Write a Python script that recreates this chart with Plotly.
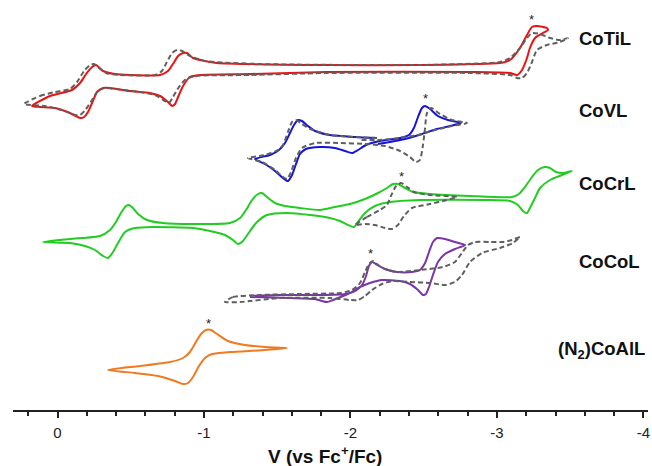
import plotly.graph_objects as go

# ---- data: potential (V vs Fc+/Fc) and current (a.u., offset per trace) ----
cotil_v = [0.174, 0.051, -0.099, -0.154, -0.195, -0.236, -0.263, -0.311, -0.392, -0.495, -0.700, -0.754, -0.788, -0.823, -0.857, -0.884, -0.925, -1.007, -1.089, -1.833, -2.474, -3.020, -3.089, -3.157, -3.205, -3.239, -3.273, -3.341, -3.348,
           -3.314, -3.260, -3.225, -3.205, -3.171, -3.137, -3.089, -2.816, -1.833, -1.314, -0.973, -0.904, -0.857, -0.823, -0.802, -0.782, -0.754, -0.700, -0.631, -0.495, -0.358, -0.311, -0.270, -0.236, -0.208, -0.181, -0.154, -0.085, 0.017, 0.119, 0.174]
cotil_i = [30.4, 31.4, 32.0, 32.7, 33.6, 34.3, 34.5, 33.9, 33.6, 33.5, 33.5, 33.9, 34.6, 35.4, 35.7, 35.7, 35.2, 34.9, 34.7, 34.5, 34.5, 34.7, 35.0, 36.2, 37.5, 38.3, 38.4, 38.2, 38.0,
           37.7, 37.2, 36.2, 35.2, 34.0, 33.5, 33.7, 33.8, 33.8, 33.6, 33.5, 33.3, 32.4, 31.3, 30.6, 30.4, 30.8, 31.4, 31.7, 31.9, 32.2, 32.2, 31.8, 30.7, 29.8, 29.3, 29.2, 29.7, 30.2, 30.3, 30.4]

cotil_ref_v = [0.229, 0.119, 0.017, -0.085, -0.133, -0.181, -0.222, -0.249, -0.283, -0.331, -0.427, -0.666, -0.713, -0.747, -0.782, -0.816, -0.850, -0.904, -1.007, -1.382, -2.474, -3.020, -3.089, -3.157, -3.205, -3.239, -3.294, -3.362, -3.430, -3.485,
               -3.430, -3.341, -3.273, -3.239, -3.205, -3.171, -3.137, -3.089, -2.816, -1.833, -1.314, -0.939, -0.877, -0.829, -0.788, -0.761, -0.734, -0.666, -0.563, -0.392, -0.324, -0.276, -0.236, -0.195, -0.154, -0.119, -0.051, 0.085, 0.229]
cotil_ref_i = [30.6, 31.4, 31.8, 32.1, 32.8, 33.9, 34.5, 34.6, 34.2, 33.7, 33.5, 33.5, 33.9, 34.8, 35.7, 36.0, 35.9, 35.4, 34.9, 34.6, 34.5, 34.8, 35.2, 36.2, 37.2, 37.7, 37.6, 37.2, 37.0, 37.2,
               36.8, 36.5, 36.0, 34.8, 33.7, 33.2, 33.2, 33.5, 33.7, 33.7, 33.5, 33.4, 33.1, 32.3, 31.3, 30.7, 30.9, 31.5, 31.8, 32.1, 32.2, 31.9, 31.0, 30.1, 29.5, 29.5, 29.9, 30.4, 30.6]

covl_v = [-2.181, -2.031, -1.860, -1.758, -1.710, -1.669, -1.642, -1.614, -1.587, -1.553, -1.512, -1.451, -1.348,
          -1.416, -1.485, -1.539, -1.573, -1.601, -1.628, -1.655, -1.696, -1.792, -1.894, -1.963, -2.010, -2.051, -2.106, -2.201, -2.338, -2.399, -2.433, -2.461, -2.488, -2.509, -2.543, -2.597, -2.666, -2.754,
          -2.679, -2.591, -2.488, -2.372, -2.270, -2.188]
covl_i = [27.2, 27.3, 27.5, 27.9, 28.4, 28.9, 29.0, 28.5, 27.7, 26.7, 26.0, 25.5, 25.1,
          24.6, 23.9, 23.2, 22.9, 23.5, 24.6, 25.6, 26.1, 26.3, 26.2, 25.9, 25.7, 26.0, 26.5, 26.9, 27.2, 27.5, 28.2, 29.3, 30.2, 30.4, 30.1, 29.4, 29.0, 28.7,
          28.4, 28.1, 27.6, 27.1, 26.8, 26.6]

covl_ref_v = [-2.181, -2.031, -1.860, -1.724, -1.669, -1.628, -1.601, -1.573, -1.539, -1.505, -1.416, -1.300,
              -1.396, -1.485, -1.539, -1.567, -1.594, -1.628, -1.669, -1.758, -1.928, -2.099, -2.236, -2.338, -2.406, -2.447, -2.474, -2.495, -2.509, -2.522, -2.550, -2.611, -2.693, -2.795,
              -2.693, -2.577, -2.461, -2.338, -2.201, -2.065]
covl_ref_i = [27.2, 27.3, 27.5, 28.1, 28.6, 29.0, 28.8, 27.8, 26.5, 26.0, 25.5, 25.2,
              24.8, 24.0, 23.3, 23.1, 23.8, 25.2, 26.2, 26.7, 26.7, 26.6, 26.4, 25.9, 25.3, 24.8, 25.0, 26.5, 28.2, 29.7, 30.2, 29.6, 29.0, 28.7,
              28.4, 28.0, 27.5, 27.2, 27.0, 27.0]

cocrl_v = [0.099, -0.085, -0.290, -0.358, -0.399, -0.433, -0.468, -0.488, -0.515, -0.550, -0.611, -0.720, -0.925, -1.177, -1.246, -1.287, -1.328, -1.369, -1.396, -1.430, -1.485, -1.553, -1.655, -1.792,
           -1.894, -1.997, -2.099, -2.188, -2.249, -2.290, -2.324, -2.372, -2.427, -2.543, -2.816, -3.102, -3.150, -3.191, -3.239, -3.280, -3.328, -3.362, -3.403, -3.457, -3.512,
           -3.444, -3.362, -3.294, -3.253, -3.225, -3.205, -3.177, -3.143, -3.089, -2.932, -2.474, -2.270, -2.167, -2.099, -2.051, -2.024, -1.983, -1.928, -1.860, -1.724, -1.567, -1.430, -1.362, -1.314, -1.266, -1.232, -1.198, -1.143, -1.041, -0.925, -0.652, -0.529, -0.461, -0.413, -0.379, -0.345, -0.311, -0.256, -0.188, -0.085, 0.099]
cocrl_i = [16.8, 17.1, 17.4, 18.0, 18.8, 19.7, 20.4, 20.5, 20.2, 19.6, 19.0, 18.7, 18.6, 18.7, 19.2, 20.0, 21.0, 21.6, 21.7, 21.3, 20.7, 20.4, 20.2, 20.0,
           20.3, 20.6, 21.1, 21.7, 22.2, 22.6, 22.6, 22.2, 21.8, 21.6, 21.4, 21.3, 21.6, 22.3, 23.3, 24.0, 24.3, 24.2, 23.8, 23.7, 23.9,
           23.5, 23.0, 22.2, 21.0, 20.2, 19.7, 19.9, 20.5, 20.9, 21.0, 21.0, 20.8, 20.4, 19.7, 18.8, 18.3, 18.5, 18.9, 19.2, 19.5, 19.7, 19.5, 18.8, 17.9, 16.9, 16.6, 17.0, 17.5, 17.9, 18.2, 18.3, 18.2, 17.8, 16.7, 15.8, 15.2, 15.4, 16.0, 16.4, 16.7, 16.8]

cocrl_ref_v = [-2.031, -2.113, -2.201, -2.249, -2.276, -2.311, -2.345, -2.386, -2.434, -2.543, -2.727,
               -2.659, -2.543, -2.420, -2.365, -2.324, -2.283, -2.236, -2.167, -2.099, -2.031]
cocrl_ref_i = [18.5, 19.3, 20.0, 20.5, 21.4, 22.4, 22.7, 22.3, 21.8, 21.5, 21.3,
               21.0, 20.6, 20.2, 19.4, 18.5, 18.1, 18.2, 18.5, 18.6, 18.5]

cocol_v = [-1.314, -1.587, -1.758, -1.805, -1.840, -1.881, -1.949, -2.010, -2.065, -2.133, -2.215, -2.338, -2.406, -2.461, -2.495, -2.515, -2.536, -2.563, -2.597, -2.645, -2.713, -2.782,
           -2.713, -2.645, -2.591, -2.563, -2.536, -2.509, -2.474, -2.420, -2.317, -2.236, -2.174, -2.147, -2.126, -2.106, -2.079, -2.031, -1.963, -1.792, -1.519, -1.314]
cocol_i = [11.3, 11.2, 11.1, 10.9, 10.8, 11.0, 11.4, 11.8, 12.3, 12.7, 13.0, 12.9, 12.6, 12.0, 11.5, 11.6, 12.3, 13.5, 14.8, 15.6, 16.1, 16.5,
           16.8, 17.1, 17.2, 16.8, 15.8, 14.7, 14.0, 13.8, 13.8, 14.1, 14.6, 14.8, 14.4, 13.4, 12.5, 11.9, 11.6, 11.5, 11.5, 11.4]

cocol_ref_v = [-1.143, -1.198, -1.382, -1.655, -1.928, -2.010, -2.065, -2.099, -2.126, -2.154, -2.188, -2.236, -2.317, -2.474, -2.631, -2.713, -2.761, -2.802, -2.850, -2.952, -3.041, -3.102, -3.157,
               -3.109, -3.020, -2.898, -2.816, -2.761, -2.713, -2.645, -2.543, -2.406, -2.290, -2.215, -2.147, -2.099, -2.051, -1.997, -1.860, -1.519, -1.246, -1.143]
cocol_ref_i = [10.8, 11.3, 11.5, 11.6, 11.7, 12.0, 12.7, 13.8, 14.6, 14.9, 14.5, 14.1, 13.8, 14.0, 14.3, 14.8, 15.7, 16.5, 16.8, 16.8, 16.8, 17.0, 17.3,
               16.7, 16.2, 15.7, 14.8, 13.5, 12.8, 12.5, 12.7, 12.8, 12.9, 12.6, 12.0, 11.4, 11.0, 11.0, 11.2, 11.2, 10.8, 10.8]

coall_v = [-0.345, -0.563, -0.768, -0.857, -0.904, -0.945, -0.980, -1.014, -1.048, -1.089, -1.164, -1.280, -1.416, -1.567,
           -1.416, -1.177, -1.055, -1.007, -0.966, -0.925, -0.891, -0.857, -0.802, -0.686, -0.529, -0.345]
coall_i = [4.0, 4.4, 4.8, 5.2, 5.8, 6.8, 7.6, 8.0, 8.0, 7.6, 6.9, 6.5, 6.3, 6.2,
           6.0, 5.8, 5.6, 5.2, 4.4, 3.3, 2.7, 2.6, 2.9, 3.4, 3.7, 4.0]

labels = ["CoTiL", "CoVL", "CoCrL", "CoCoL", "(N<sub>2</sub>)CoAlL"]
label_v = [-3.546, -3.546, -3.546, -3.546, -3.403]
label_i = [37.2, 30.0, 22.7, 14.9, 6.0]

star_v = [-3.239, -2.509, -2.345, -2.140, -1.034]
star_i = [39.1, 31.2, 23.4, 15.7, 8.7]

tick_vals = [0, -1, -2, -3, -4]
tick_text = ["0", "-1", "-2", "-3", "-4"]
minor_vals = [0.2, -0.2, -0.4, -0.6, -0.8, -1.2, -1.4, -1.6, -1.8, -2.2, -2.4, -2.6, -2.8,
              -3.2, -3.4, -3.6, -3.8]

GREY = "#5f5f5f"
FONT = "Liberation Sans, Arial, sans-serif"
fig = go.Figure()

def add_trace(v, i, color, dashed=False):
    fig.add_trace(go.Scatter(
        x=v, y=i, mode="lines",
        line=dict(color=color, width=2, dash="5px,3px" if dashed else "solid",
                  shape="spline", smoothing=0.6),
        showlegend=False, hoverinfo="skip"))

add_trace(cotil_v, cotil_i, "#ee1111")
add_trace(cotil_ref_v, cotil_ref_i, GREY, True)
add_trace(covl_v, covl_i, "#1414dd")
add_trace(covl_ref_v, covl_ref_i, GREY, True)
add_trace(cocrl_v, cocrl_i, "#22cc22")
add_trace(cocrl_ref_v, cocrl_ref_i, GREY, True)
add_trace(cocol_v, cocol_i, "#7a35a8")
add_trace(cocol_ref_v, cocol_ref_i, GREY, True)
add_trace(coall_v, coall_i, "#f07a20")

for lab, v, i in zip(labels, label_v, label_i):
    fig.add_annotation(x=v, y=i, text="<b>" + lab + "</b>", showarrow=False,
                       xanchor="left", yanchor="middle",
                       font=dict(family=FONT, size=18.5, color="#111"))

for v, i in zip(star_v, star_i):
    fig.add_annotation(x=v, y=i, text="*", showarrow=False, xanchor="center", yanchor="middle",
                       font=dict(family=FONT, size=13, color="#222"))

fig.add_annotation(xref="paper", yref="paper", x=0.491, y=-0.110,
                   text="<b>V (vs Fc<sup>+</sup>/Fc)</b>", showarrow=False,
                   xanchor="center", yanchor="middle",
                   font=dict(family=FONT, size=19, color="#111"))

fig.update_layout(
    width=652, height=466,
    margin=dict(l=13, r=4, t=0, b=56),
    paper_bgcolor="white", plot_bgcolor="white",
    xaxis=dict(range=[0.3038, -4.031], showgrid=False, zeroline=False,
               showline=True, linecolor="#222", linewidth=2,
               tickmode="array", tickvals=tick_vals, ticktext=tick_text,
               ticks="outside", ticklen=6, tickwidth=1.5, tickcolor="#222",
               ticklabelstandoff=2, ticklabeloverflow="allow",
               minor=dict(tickmode="array", tickvals=minor_vals, ticks="outside",
                          ticklen=4, tickwidth=1.5, tickcolor="#222", showgrid=False),
               tickfont=dict(family=FONT, size=15, color="#222")),
    yaxis=dict(range=[0, 41], visible=False),
)

# remove the default 8px page margin so the 652x466 figure fills the window exactly
fig.write_html("out.html",
               config={"displayModeBar": False},
               post_script="document.body.style.margin='0';document.body.style.overflow='hidden';")
